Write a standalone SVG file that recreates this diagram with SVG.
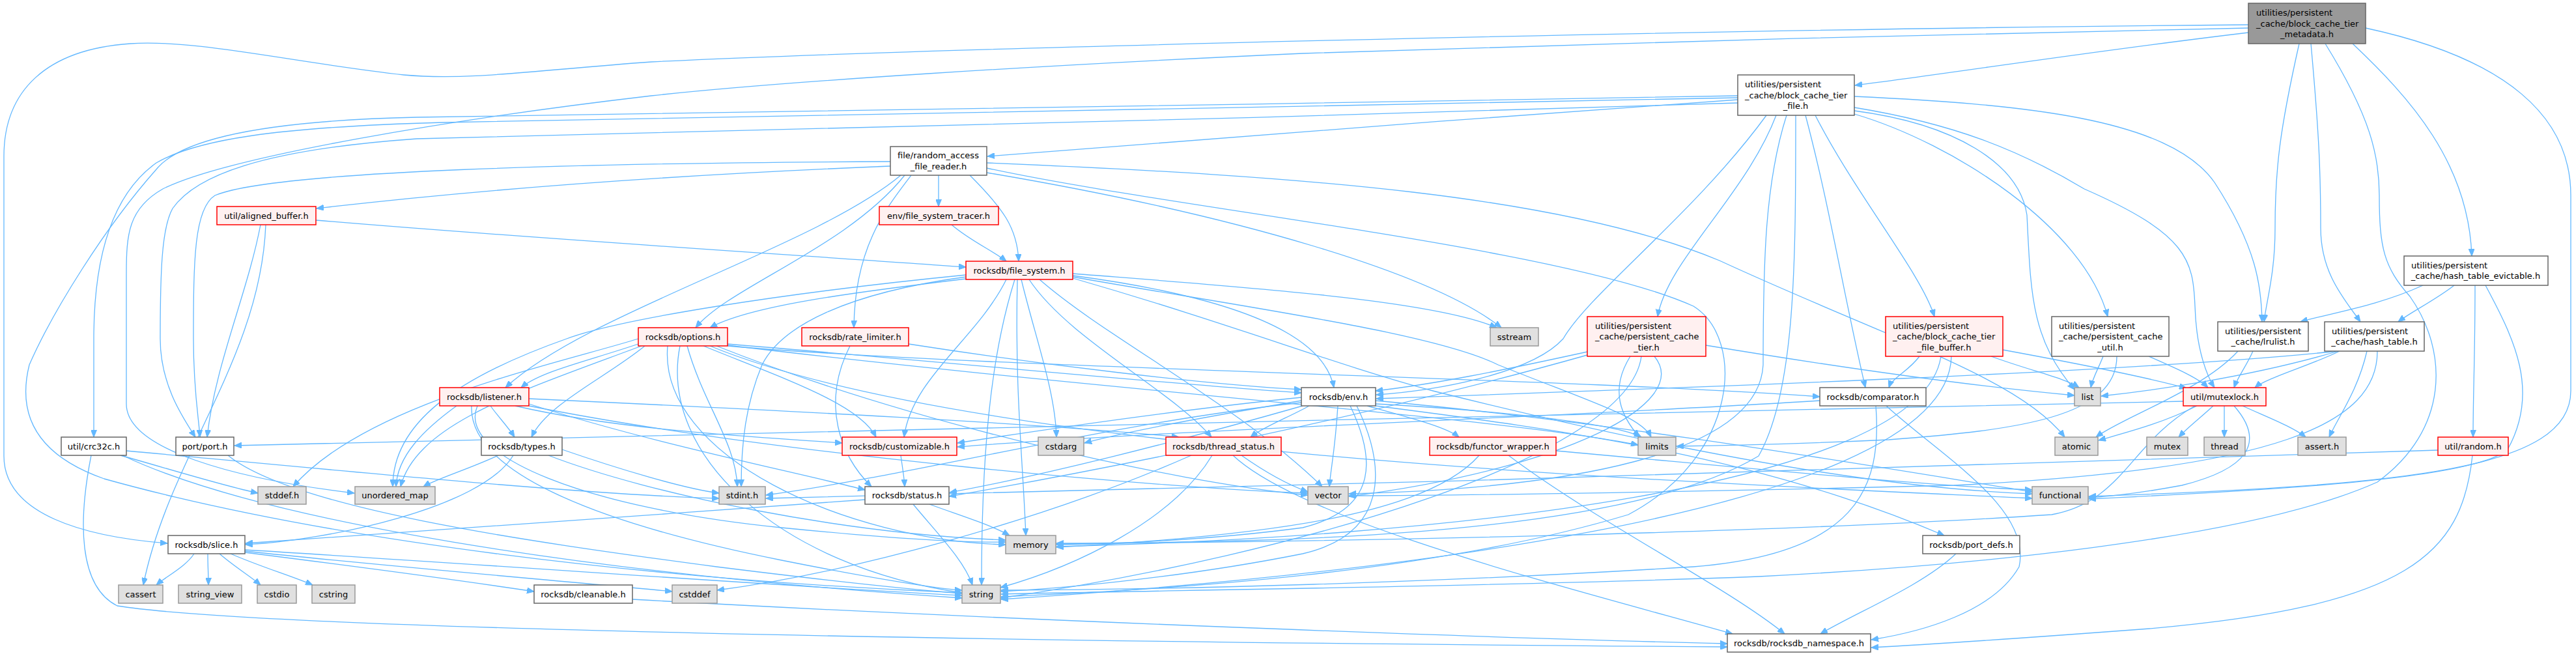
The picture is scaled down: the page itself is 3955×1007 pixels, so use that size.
<svg xmlns="http://www.w3.org/2000/svg" width="3955" height="1007" viewBox="0 0 3955 1007">
<style>
.e{fill:none;stroke:#63b8ff;stroke-width:1.3;marker-end:url(#a)}
rect{stroke-width:1.5}
.n rect{fill:#ffffff;stroke:#666666}
.r rect{fill:#fff0f0;stroke:#ff0000}
.s rect{fill:#e0e0e0;stroke:#999999}
.c rect{fill:#999999;stroke:#666666}
text{font-family:"DejaVu Sans","Liberation Sans",Arial,sans-serif;font-size:13px;fill:#000}
.m{text-anchor:middle}
</style>
<defs>
<marker id="a" markerWidth="12" markerHeight="9" refX="11" refY="4.5" orient="auto" markerUnits="userSpaceOnUse"><path d="M0,0 L11,4.5 L0,9 z" fill="#63b8ff" stroke="#63b8ff" stroke-width="1"/></marker>
</defs>
<rect width="3955" height="1007" fill="#ffffff"/>
<g id="edges">
<path class="e" d="M3452,38 C2600,45 1400,75 1000,95 C820,108 720,124 620,115 C450,96 300,60 200,67 C70,76 6,140 6,240 L6,700 C6,790 130,824 257,834"/>
<path class="e" d="M3452,43 C3100,49 2300,70 2000,82 C1600,100 1200,125 1000,147 C700,182 350,240 250,290 C197,320 194,360 194,420 L194,620 C194,690 360,735 544,757"/>
<path class="e" d="M3452,50 C3200,80 3000,112 2848,131"/>
<path class="e" d="M3530,67 C3500,200 3493,260 3493,350 C3493,420 3480,460 3476,494"/>
<path class="e" d="M3548,67 C3560,200 3563,260 3563,350 C3563,420 3600,460 3624,494"/>
<path class="e" d="M3570,67 C3640,180 3653,240 3653,300 C3653,380 3660,410 3700,455 C3760,540 3760,660 3650,740 C3450,830 3000,870 2700,885 C2300,900 1800,906 1537,912"/>
<path class="e" d="M3612,67 C3700,150 3790,250 3795,393"/>
<path class="e" d="M3632,43 C3850,90 3947,180 3947,300 L3947,600 C3947,720 3700,745 3207,762"/>
<path class="e" d="M2668,153 C2300,180 1800,215 1516,240"/>
<path class="e" d="M2668,150 C2000,165 1200,175 680,188 C420,195 300,215 240,250 C170,300 144,400 144,520 C144,600 144,640 144,671"/>
<path class="e" d="M2668,147 C2000,160 1200,170 640,180 C420,185 280,210 240,260 C160,350 80,480 45,560 C25,640 60,700 160,735 C500,830 1000,890 1477,910"/>
<path class="e" d="M2668,158 C2000,180 1200,200 640,213 C400,230 300,270 265,320 C248,350 246,420 246,520 C246,590 280,640 300,671"/>
<path class="e" d="M2727,177 C2680,300 2560,400 2545,486"/>
<path class="e" d="M2712,177 C2600,330 2440,450 2400,520 C2350,575 2200,600 2113,606"/>
<path class="e" d="M2743,177 C2710,280 2707,400 2707,560 C2700,700 2400,750 2071,758"/>
<path class="e" d="M2757,177 C2757,400 2757,600 2700,700 C2500,820 2000,833 1622,834"/>
<path class="e" d="M2772,177 C2810,320 2830,450 2864,595"/>
<path class="e" d="M2787,177 C2850,300 2950,420 2970,486"/>
<path class="e" d="M2847,148 C3100,160 3330,180 3400,280 C3465,380 3472,440 3473,494"/>
<path class="e" d="M2847,165 C3000,190 3100,230 3200,290 C3360,360 3367,400 3370,470 C3372,540 3390,580 3400,595"/>
<path class="e" d="M2847,170 C3000,190 3100,250 3112,330 C3118,450 3118,520 3185,598"/>
<path class="e" d="M2847,175 C3000,220 3200,350 3236,486"/>
<path class="e" d="M1367,255 C1000,270 700,295 486,320"/>
<path class="e" d="M1367,248 C900,250 420,262 330,300 C298,320 297,400 297,520 C297,600 305,640 307,671"/>
<path class="e" d="M1383,269 C1250,380 900,480 776,595"/>
<path class="e" d="M1389,269 C1300,380 1120,440 1068,503"/>
<path class="e" d="M1399,269 C1360,320 1312,380 1311,503"/>
<path class="e" d="M1441,269 C1441,285 1441,300 1441,317"/>
<path class="e" d="M1489,269 C1540,320 1562,350 1564,401"/>
<path class="e" d="M1515,265 C1900,330 2200,420 2305,503"/>
<path class="e" d="M1515,250 C2000,270 2400,300 2640,400 C2900,520 3100,580 3170,671"/>
<path class="e" d="M1515,258 C1800,320 2400,380 2600,470 C2680,520 2670,700 2500,790 C2200,880 1800,905 1537,916"/>
<path class="e" d="M400,345 C380,450 330,560 318,671"/>
<path class="e" d="M408,345 C400,550 260,700 220,898"/>
<path class="e" d="M485,338 C800,365 1200,390 1483,410"/>
<path class="e" d="M1461,345 C1490,370 1525,385 1545,401"/>
<path class="e" d="M1483,422 C1200,450 950,490 870,520 C700,580 603,650 603,747"/>
<path class="e" d="M1483,425 C1300,450 1200,500 1170,560 C1145,620 1138,680 1138,747"/>
<path class="e" d="M1483,428 C1300,450 1150,470 1090,503"/>
<path class="e" d="M1545,429 C1500,520 1400,580 1388,671"/>
<path class="e" d="M1558,429 C1520,550 1507,700 1507,898"/>
<path class="e" d="M1562,429 C1558,600 1570,700 1575,822"/>
<path class="e" d="M1568,429 C1590,520 1620,600 1622,671"/>
<path class="e" d="M1580,429 C1640,520 1800,600 1860,671"/>
<path class="e" d="M1596,429 C1700,520 1900,620 2030,747"/>
<path class="e" d="M1647,420 C1900,440 2200,460 2298,503"/>
<path class="e" d="M1647,423 C1850,450 2030,500 2048,595"/>
<path class="e" d="M1647,425 C1900,470 2200,510 2300,560 C2450,620 2520,640 2535,671"/>
<path class="e" d="M1647,427 C1900,500 2050,560 2200,600 C2600,700 2900,750 3120,758"/>
<path class="e" d="M980,528 C900,555 830,570 800,595"/>
<path class="e" d="M990,531 C930,580 840,620 816,671"/>
<path class="e" d="M980,520 C850,560 560,620 450,747"/>
<path class="e" d="M985,531 C800,600 640,650 615,747"/>
<path class="e" d="M1055,531 C1080,620 1130,680 1132,747"/>
<path class="e" d="M1080,531 C1200,580 1320,620 1345,671"/>
<path class="e" d="M1025,531 C1010,700 1300,830 1544,836"/>
<path class="e" d="M1044,531 C1010,700 1200,870 1477,910"/>
<path class="e" d="M1117,528 C1500,560 1800,590 1998,603"/>
<path class="e" d="M1117,531 C1500,565 2400,580 2794,609"/>
<path class="e" d="M1117,530 C1700,600 2300,640 2515,683"/>
<path class="e" d="M1100,531 C1400,650 1800,740 2008,760"/>
<path class="e" d="M1090,531 C1500,700 2600,740 3120,765"/>
<path class="e" d="M1305,531 C1260,620 1290,700 1338,747"/>
<path class="e" d="M1395,528 C1600,560 1850,590 1998,598"/>
<path class="e" d="M2437,540 C2300,570 2200,590 2112,600"/>
<path class="e" d="M2503,547 C2470,600 2490,640 2517,671"/>
<path class="e" d="M2619,530 C2800,560 3000,590 3185,607"/>
<path class="e" d="M2437,545 C2100,640 1700,720 1457,762"/>
<path class="e" d="M2520,547 C2500,700 2000,850 1537,918"/>
<path class="e" d="M2540,547 C2600,620 2400,720 2071,762"/>
<path class="e" d="M2947,547 C2930,570 2905,580 2900,595"/>
<path class="e" d="M3057,547 C3120,570 3170,580 3192,595"/>
<path class="e" d="M3075,537 C3200,560 3300,580 3357,596"/>
<path class="e" d="M2980,547 C2950,750 2200,825 1622,839"/>
<path class="e" d="M2996,547 C2990,800 2000,890 1537,920"/>
<path class="e" d="M3229,547 C3222,565 3213,580 3210,595"/>
<path class="e" d="M3299,547 C3340,565 3375,580 3390,595"/>
<path class="e" d="M3250,547 C3250,640 3100,660 2900,675 C2750,682 2650,684 2574,685"/>
<path class="e" d="M3436,539 C3380,600 3260,640 3218,671"/>
<path class="e" d="M3459,539 C3450,560 3435,580 3430,595"/>
<path class="e" d="M3590,539 C3450,580 3300,600 3226,608"/>
<path class="e" d="M3592,539 C3550,560 3480,580 3462,595"/>
<path class="e" d="M3588,539 C3300,570 2600,595 2113,612"/>
<path class="e" d="M3634,539 C3620,600 3590,640 3576,671"/>
<path class="e" d="M3650,539 C3650,650 3500,720 3000,745 C2600,755 2300,760 2071,761"/>
<path class="e" d="M3720,438 C3650,470 3580,480 3532,494"/>
<path class="e" d="M3768,438 C3740,460 3700,480 3682,494"/>
<path class="e" d="M3800,438 C3800,550 3797,600 3797,671"/>
<path class="e" d="M3816,438 C3860,520 3900,600 3850,690 C3800,735 3500,752 3207,766"/>
<path class="e" d="M701,623 C650,660 610,700 608,747"/>
<path class="e" d="M753,623 C765,640 780,655 790,671"/>
<path class="e" d="M791,623 C950,660 1150,670 1293,680"/>
<path class="e" d="M812,620 C1000,680 1200,720 1328,752"/>
<path class="e" d="M812,612 C1200,630 1600,650 1810,671"/>
<path class="e" d="M733,623 C700,700 900,780 1200,810 C1400,830 1500,833 1544,832"/>
<path class="e" d="M724,623 C720,720 900,800 1200,860 C1350,890 1450,905 1477,906"/>
<path class="e" d="M812,623 C1200,700 1800,750 2008,757"/>
<path class="e" d="M765,699 C720,720 670,735 650,747"/>
<path class="e" d="M788,699 C740,780 500,830 377,836"/>
<path class="e" d="M842,699 C1000,760 1300,820 1544,829"/>
<path class="e" d="M863,690 C950,720 1050,750 1104,757"/>
<path class="e" d="M298,850 C285,870 255,885 240,898"/>
<path class="e" d="M319,850 C319,870 320,880 320,898"/>
<path class="e" d="M337,850 C360,870 385,885 400,898"/>
<path class="e" d="M354,850 C400,870 450,885 480,898"/>
<path class="e" d="M376,848 C550,870 700,890 820,908"/>
<path class="e" d="M376,846 C600,870 900,895 1032,908"/>
<path class="e" d="M376,844 C800,870 1200,900 1477,914"/>
<path class="e" d="M971,920 C1500,950 2300,980 2652,988"/>
<path class="e" d="M350,699 C450,780 800,830 1100,870 C1300,895 1400,905 1477,911"/>
<path class="e" d="M185,699 C260,720 340,745 396,757"/>
<path class="e" d="M194,692 C500,720 900,760 1104,765"/>
<path class="e" d="M188,699 C400,800 900,880 1477,918"/>
<path class="e" d="M140,699 C120,800 120,900 180,930 C400,965 1500,985 2652,993"/>
<path class="e" d="M1383,699 C1385,715 1388,730 1389,747"/>
<path class="e" d="M1427,774 C1470,790 1520,805 1550,822"/>
<path class="e" d="M1402,774 C1440,820 1480,860 1493,898"/>
<path class="e" d="M1328,767 C1000,790 600,820 377,834"/>
<path class="e" d="M1829,699 C1600,800 1300,880 1101,906"/>
<path class="e" d="M1861,699 C1800,800 1650,870 1536,902"/>
<path class="e" d="M1906,699 C1950,730 1980,745 2008,755"/>
<path class="e" d="M1893,699 C2000,800 2400,900 2660,973"/>
<path class="e" d="M1998,618 C1700,650 1400,730 1176,760"/>
<path class="e" d="M1998,615 C1850,640 1720,665 1665,680"/>
<path class="e" d="M1998,610 C1800,630 1600,660 1470,680"/>
<path class="e" d="M2010,623 C1980,640 1940,655 1920,671"/>
<path class="e" d="M2000,623 C1800,680 1600,730 1458,756"/>
<path class="e" d="M2099,623 C2160,640 2220,655 2240,671"/>
<path class="e" d="M2054,623 C2050,690 2043,720 2041,747"/>
<path class="e" d="M2112,620 C2300,630 2480,650 2520,671"/>
<path class="e" d="M2073,623 C2110,700 2120,780 2000,810 C1850,830 1700,835 1622,836"/>
<path class="e" d="M2083,623 C2130,720 2130,820 2000,850 C1800,890 1600,905 1537,908"/>
<path class="e" d="M2112,623 C2400,660 2700,700 2985,822"/>
<path class="e" d="M2112,615 C2500,650 2900,720 3120,755"/>
<path class="e" d="M2794,615 C2400,640 1800,660 1470,686"/>
<path class="e" d="M2880,623 C2890,750 2850,850 2600,870 C2200,895 1800,905 1537,906"/>
<path class="e" d="M2896,623 C2980,700 3120,780 3100,870 C3060,940 2950,970 2873,982"/>
<path class="e" d="M2271,699 C2200,780 2000,820 1622,840"/>
<path class="e" d="M2316,699 C2450,800 2650,900 2740,973"/>
<path class="e" d="M2389,692 C2700,720 2950,745 3120,752"/>
<path class="e" d="M3003,850 C2950,900 2850,940 2795,973"/>
<path class="e" d="M3373,623 C3320,650 3260,665 3222,676"/>
<path class="e" d="M3398,623 C3380,640 3360,655 3345,671"/>
<path class="e" d="M3415,623 C3415,640 3415,655 3415,671"/>
<path class="e" d="M3443,623 C3480,640 3520,655 3540,671"/>
<path class="e" d="M3430,623 C3480,680 3450,720 3350,745 C3280,758 3240,762 3207,764"/>
<path class="e" d="M3370,623 C3270,680 3260,770 3150,790 C2700,820 2000,832 1622,835"/>
<path class="e" d="M3352,616 C2500,640 1000,660 360,684"/>
<path class="e" d="M3743,691 C3000,720 2000,745 1176,765"/>
<path class="e" d="M3796,699 C3780,850 3700,930 3300,965 C3100,980 2950,990 2873,994"/>
</g>
<g id="node-metadata" class="c"><rect x="3452" y="5" width="180" height="62"/><text x="3464" y="24">utilities/persistent</text><text x="3464" y="40.5">_cache/block_cache_tier</text><text class="m" x="3542" y="57">_metadata.h</text></g>
<g id="node-block_cache_tier_file" class="n"><rect x="2668" y="115" width="179" height="62"/><text x="2679" y="134">utilities/persistent</text><text x="2679" y="150.5">_cache/block_cache_tier</text><text class="m" x="2757" y="167">_file.h</text></g>
<g id="node-hash_table_evictable" class="n"><rect x="3691" y="393" width="221" height="45"/><text x="3702" y="411.5">utilities/persistent</text><text class="m" x="3801" y="428">_cache/hash_table_evictable.h</text></g>
<g id="node-random_access_file_reader" class="n"><rect x="1367" y="225" width="148" height="44"/><text x="1378" y="243">file/random_access</text><text class="m" x="1441" y="259.5">_file_reader.h</text></g>
<g id="node-aligned_buffer" class="r"><rect x="333" y="317" width="152" height="28"/><text class="m" x="409" y="335.5">util/aligned_buffer.h</text></g>
<g id="node-file_system_tracer" class="r"><rect x="1350" y="317" width="183" height="28"/><text class="m" x="1441" y="335.5">env/file_system_tracer.h</text></g>
<g id="node-file_system" class="r"><rect x="1483" y="401" width="164" height="28"/><text class="m" x="1565" y="419.5">rocksdb/file_system.h</text></g>
<g id="node-options" class="r"><rect x="980" y="503" width="137" height="28"/><text class="m" x="1048.5" y="521.5">rocksdb/options.h</text></g>
<g id="node-rate_limiter" class="r"><rect x="1231" y="503" width="164" height="28"/><text class="m" x="1313" y="521.5">rocksdb/rate_limiter.h</text></g>
<g id="node-sstream" class="s"><rect x="2288" y="503" width="74" height="28"/><text class="m" x="2325" y="521.5">sstream</text></g>
<g id="node-persistent_cache_tier" class="r"><rect x="2437" y="486" width="182" height="61"/><text x="2449" y="504.5">utilities/persistent</text><text x="2449" y="521">_cache/persistent_cache</text><text class="m" x="2528" y="537.5">_tier.h</text></g>
<g id="node-block_cache_tier_file_buffer" class="r"><rect x="2895" y="486" width="180" height="61"/><text x="2906" y="504.5">utilities/persistent</text><text x="2906" y="521">_cache/block_cache_tier</text><text class="m" x="2985" y="537.5">_file_buffer.h</text></g>
<g id="node-persistent_cache_util" class="n"><rect x="3150" y="486" width="180" height="61"/><text x="3161" y="504.5">utilities/persistent</text><text x="3161" y="521">_cache/persistent_cache</text><text class="m" x="3240" y="537.5">_util.h</text></g>
<g id="node-lrulist" class="n"><rect x="3405" y="494" width="139" height="45"/><text x="3416" y="512.5">utilities/persistent</text><text class="m" x="3474.5" y="529">_cache/lrulist.h</text></g>
<g id="node-hash_table" class="n"><rect x="3569" y="494" width="153" height="45"/><text x="3580" y="512.5">utilities/persistent</text><text class="m" x="3645.5" y="529">_cache/hash_table.h</text></g>
<g id="node-listener" class="r"><rect x="675" y="595" width="137" height="28"/><text class="m" x="743.5" y="613.5">rocksdb/listener.h</text></g>
<g id="node-env" class="n"><rect x="1998" y="595" width="114" height="28"/><text class="m" x="2055" y="613.5">rocksdb/env.h</text></g>
<g id="node-comparator" class="n"><rect x="2794" y="595" width="163" height="28"/><text class="m" x="2875.5" y="613.5">rocksdb/comparator.h</text></g>
<g id="node-list" class="s"><rect x="3185" y="595" width="40" height="28"/><text class="m" x="3205" y="613.5">list</text></g>
<g id="node-mutexlock" class="r"><rect x="3352" y="595" width="127" height="28"/><text class="m" x="3415.5" y="613.5">util/mutexlock.h</text></g>
<g id="node-crc32c" class="n"><rect x="94" y="671" width="100" height="28"/><text class="m" x="144" y="689.5">util/crc32c.h</text></g>
<g id="node-port" class="n"><rect x="270" y="671" width="89" height="28"/><text class="m" x="314.5" y="689.5">port/port.h</text></g>
<g id="node-types" class="n"><rect x="739" y="671" width="124" height="28"/><text class="m" x="801" y="689.5">rocksdb/types.h</text></g>
<g id="node-customizable" class="r"><rect x="1293" y="671" width="176" height="28"/><text class="m" x="1381" y="689.5">rocksdb/customizable.h</text></g>
<g id="node-cstdarg" class="s"><rect x="1594" y="671" width="70" height="28"/><text class="m" x="1629" y="689.5">cstdarg</text></g>
<g id="node-thread_status" class="r"><rect x="1790" y="671" width="177" height="28"/><text class="m" x="1878.5" y="689.5">rocksdb/thread_status.h</text></g>
<g id="node-functor_wrapper" class="r"><rect x="2195" y="671" width="194" height="28"/><text class="m" x="2292" y="689.5">rocksdb/functor_wrapper.h</text></g>
<g id="node-limits" class="s"><rect x="2515" y="671" width="58" height="28"/><text class="m" x="2544" y="689.5">limits</text></g>
<g id="node-atomic" class="s"><rect x="3155" y="671" width="66" height="28"/><text class="m" x="3188" y="689.5">atomic</text></g>
<g id="node-mutex" class="s"><rect x="3296" y="671" width="63" height="28"/><text class="m" x="3327.5" y="689.5">mutex</text></g>
<g id="node-thread" class="s"><rect x="3384" y="671" width="63" height="28"/><text class="m" x="3415.5" y="689.5">thread</text></g>
<g id="node-assert" class="s"><rect x="3528" y="671" width="74" height="28"/><text class="m" x="3565" y="689.5">assert.h</text></g>
<g id="node-random" class="r"><rect x="3743" y="671" width="108" height="28"/><text class="m" x="3797" y="689.5">util/random.h</text></g>
<g id="node-stddef" class="s"><rect x="396" y="747" width="74" height="27"/><text class="m" x="433" y="765">stddef.h</text></g>
<g id="node-unordered_map" class="s"><rect x="545" y="747" width="123" height="27"/><text class="m" x="606.5" y="765">unordered_map</text></g>
<g id="node-stdint" class="s"><rect x="1104" y="747" width="71" height="27"/><text class="m" x="1139.5" y="765">stdint.h</text></g>
<g id="node-status" class="n"><rect x="1328" y="747" width="129" height="27"/><text class="m" x="1392.5" y="765">rocksdb/status.h</text></g>
<g id="node-vector" class="s"><rect x="2008" y="747" width="62" height="27"/><text class="m" x="2039" y="765">vector</text></g>
<g id="node-functional" class="s"><rect x="3120" y="747" width="86" height="27"/><text class="m" x="3163" y="765">functional</text></g>
<g id="node-slice" class="n"><rect x="258" y="822" width="118" height="28"/><text class="m" x="317" y="840.5">rocksdb/slice.h</text></g>
<g id="node-memory" class="s"><rect x="1544" y="822" width="77" height="28"/><text class="m" x="1582.5" y="840.5">memory</text></g>
<g id="node-port_defs" class="n"><rect x="2952" y="822" width="149" height="28"/><text class="m" x="3026.5" y="840.5">rocksdb/port_defs.h</text></g>
<g id="node-cassert" class="s"><rect x="182" y="898" width="68" height="28"/><text class="m" x="216" y="916.5">cassert</text></g>
<g id="node-string_view" class="s"><rect x="274" y="898" width="97" height="28"/><text class="m" x="322.5" y="916.5">string_view</text></g>
<g id="node-cstdio" class="s"><rect x="395" y="898" width="60" height="28"/><text class="m" x="425" y="916.5">cstdio</text></g>
<g id="node-cstring" class="s"><rect x="479" y="898" width="66" height="28"/><text class="m" x="512" y="916.5">cstring</text></g>
<g id="node-cleanable" class="n"><rect x="820" y="898" width="151" height="28"/><text class="m" x="895.5" y="916.5">rocksdb/cleanable.h</text></g>
<g id="node-cstddef" class="s"><rect x="1032" y="898" width="69" height="28"/><text class="m" x="1066.5" y="916.5">cstddef</text></g>
<g id="node-string" class="s"><rect x="1477" y="898" width="59" height="28"/><text class="m" x="1506.5" y="916.5">string</text></g>
<g id="node-rocksdb_namespace" class="n"><rect x="2652" y="973" width="220" height="28"/><text class="m" x="2762" y="991.5">rocksdb/rocksdb_namespace.h</text></g>
</svg>
